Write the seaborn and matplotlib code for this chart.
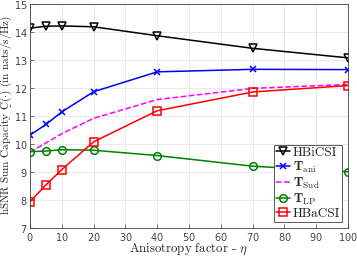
import numpy as np
import pandas as pd
import matplotlib
matplotlib.use("Agg")
import matplotlib.pyplot as plt
import seaborn as sns

# datos
eta = [0, 5, 10, 20, 40, 70, 100]
hbicsi = [14.15, 14.22, 14.23, 14.2, 13.88, 13.43, 13.09]
t_ani = [10.33, 10.71, 11.16, 11.88, 12.59, 12.68, 12.67]
t_sud = [9.72, 10.05, 10.38, 10.93, 11.6, 12.0, 12.14]
t_lp = [9.74, 9.76, 9.81, 9.79, 9.6, 9.22, 9.02]
hbacsi = [7.95, 8.55, 9.1, 10.09, 11.2, 11.87, 12.1]

etiquetas = ['HBiCSI', r'$\mathbf{T}_{\mathrm{ani}}$', r'$\mathbf{T}_{\mathrm{Sud}}$',
             r'$\mathbf{T}_{\mathrm{LP}}$', 'HBaCSI']

sns.set_style('ticks')
plt.rcParams['font.family'] = ['DejaVu Sans']
plt.rcParams['mathtext.fontset'] = 'cm'
plt.rcParams['axes.formatter.use_mathtext'] = True

fig = plt.figure(figsize=(3.57, 2.58), dpi=100)
ax = fig.add_axes([0.084, 0.115, 0.891, 0.868])

series = [
    (hbicsi, 'black', 'v', '-', 5.8),
    (t_ani, 'blue', 'x', '-', 4.5),
    (t_sud, 'magenta', None, '--', 5),
    (t_lp, 'green', 'o', '-', 5.5),
    (hbacsi, 'red', 's', '-', 5.5),
]
for (valores, color, marca, estilo, tam), nombre in zip(series, etiquetas):
    sns.lineplot(x=eta, y=valores, ax=ax, color=color, marker=marca, linestyle=estilo,
                 markersize=tam, markerfacecolor='none', markeredgecolor=color,
                 markeredgewidth=1.1, linewidth=1.1, label=nombre)

ax.set_xlim(0, 100)
ax.set_ylim(7, 15)
ax.set_xticks(np.arange(0, 101, 10))
ax.set_yticks(np.arange(7, 16, 1))
ax.grid(True, color='#e6e6e6', linewidth=0.6)
ax.set_axisbelow(True)
ax.tick_params(direction='in', labelsize=7, colors='#404040', length=3, width=0.5, pad=1.8)
for s in ax.spines.values():
    s.set_color('#404040')
    s.set_linewidth(0.6)

ax.set_xlabel(r'Anisotropy factor - $\eta$', fontsize=9.2, fontfamily='cmr10')
ax.xaxis.set_label_coords(0.5, -0.058, transform=ax.transAxes)
ax.set_ylabel(r'hSNR Sum Capacity $\underset{\_}{\mathrm{C}}(\cdot)$ (in nats/s/Hz)',
              fontsize=8.0, fontfamily='cmr10')
ax.yaxis.set_label_coords(-0.049, 0.505, transform=ax.transAxes)

leg = ax.legend(loc='lower right', handlelength=1.1, handletextpad=0.2,
                borderpad=0.15, labelspacing=0.05, bbox_to_anchor=(0.982, 0.03),
                borderaxespad=0.0, fancybox=False, framealpha=1, edgecolor='#404040',
                prop={'family': 'cmr10', 'size': 9.5})
leg.get_frame().set_linewidth(0.6)

fig.savefig('out.png', dpi=100)
